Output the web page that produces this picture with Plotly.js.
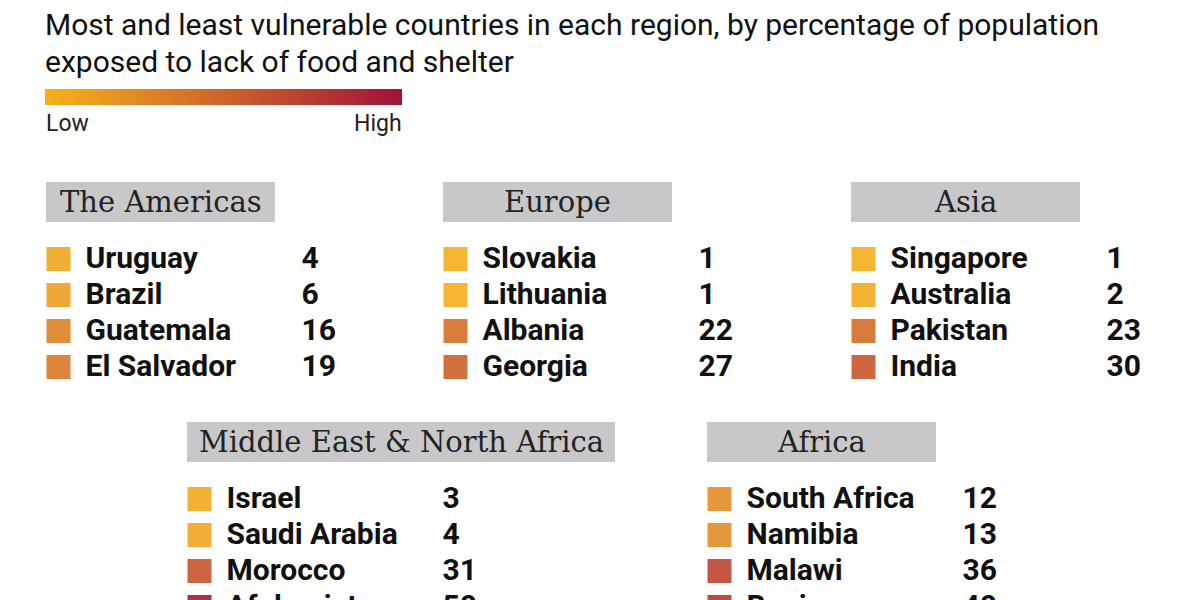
<!DOCTYPE html>
<html>
<head>
<meta charset="utf-8">
<script src="https://cdn.plot.ly/plotly-3.0.1.min.js"></script>
<style>html,body{margin:0;padding:0;background:#fff;overflow:hidden;}#chart{width:1200px;height:640px;}</style>
</head>
<body>
<div id="chart"></div>
<script>
// ---- data ----
const titleLines = ['Most and least vulnerable countries in each region, by percentage of population', 'exposed to lack of food and shelter'];
const scaleLabels = ['Low', 'High'];
const regions = ['The Americas', 'Europe', 'Asia', 'Middle East & North Africa', 'Africa'];
const americasCountries = ['Uruguay', 'Brazil', 'Guatemala', 'El Salvador'];
const americasValues = [4, 6, 16, 19];
const europeCountries = ['Slovakia', 'Lithuania', 'Albania', 'Georgia'];
const europeValues = [1, 1, 22, 27];
const asiaCountries = ['Singapore', 'Australia', 'Pakistan', 'India'];
const asiaValues = [1, 2, 23, 30];
const menaCountries = ['Israel', 'Saudi Arabia', 'Morocco', 'Afghanistan'];
const menaValues = [3, 4, 31, 50];
const africaCountries = ['South Africa', 'Namibia', 'Malawi', 'Benin'];
const africaValues = [12, 13, 36, 40];

// ---- layout constants (pixel positions of panels) ----
// The figure is drawn 640px tall inside the 600px window, so the last row is cut off as in the original.
const FIG_H = 640;
const panels = [
  {left: 46, top: 182, w: 229, names: americasCountries, vals: americasValues},
  {left: 443, top: 182, w: 229, names: europeCountries, vals: europeValues},
  {left: 851, top: 182, w: 229, names: asiaCountries, vals: asiaValues},
  {left: 187, top: 422, w: 428, names: menaCountries, vals: menaValues},
  {left: 707, top: 422, w: 229, names: africaCountries, vals: africaValues}
];
const headerH = 40, firstRow = 77, rowStep = 36;
const colorscale = [[0, '#F6B11C'], [0.5, '#CE6429'], [1, '#A0123A']];
const cmin = 0, cmax = 52;

const sqX = [], sqY = [], sqC = [];
const nmX = [], nmY = [], nmT = [];
const vX = [], vY = [], vT = [];
const shapes = [], annotations = [];

panels.forEach((p, i) => {
  shapes.push({type: 'rect', xref: 'x', yref: 'y', x0: p.left, x1: p.left + p.w, y0: p.top, y1: p.top + headerH,
    fillcolor: '#C8C8CA', line: {width: 0}, layer: 'below'});
  annotations.push({xref: 'x', yref: 'y', x: p.left + p.w / 2, y: p.top + headerH / 2, text: regions[i],
    showarrow: false, xanchor: 'center', yanchor: 'middle',
    font: {family: 'DejaVu Serif', size: 29, color: '#222'}});
  p.names.forEach((n, j) => {
    const yc = p.top + firstRow + j * rowStep;
    sqX.push(p.left + 12.5); sqY.push(yc); sqC.push(p.vals[j]);
    nmX.push(p.left + 39.5); nmY.push(yc + 1); nmT.push(n);
    vX.push(p.left + 255.5); vY.push(yc + 1); vT.push(String(p.vals[j]));
  });
});

annotations.push({xref: 'x', yref: 'y', x: 43, y: 24, text: titleLines[0], showarrow: false, xanchor: 'left', yanchor: 'middle',
  font: {family: 'Roboto', size: 30, color: '#111'}});
annotations.push({xref: 'x', yref: 'y', x: 43, y: 61, text: titleLines[1], showarrow: false, xanchor: 'left', yanchor: 'middle',
  font: {family: 'Roboto', size: 30, color: '#111'}});
annotations.push({xref: 'x', yref: 'y', x: 44, y: 123, text: scaleLabels[0], showarrow: false, xanchor: 'left', yanchor: 'middle',
  font: {family: 'Roboto', size: 23, color: '#222'}});
annotations.push({xref: 'x', yref: 'y', x: 404, y: 123, text: scaleLabels[1], showarrow: false, xanchor: 'right', yanchor: 'middle',
  font: {family: 'Roboto', size: 23, color: '#222'}});

const traces = [
  {type: 'scatter', mode: 'markers', x: sqX, y: sqY, hoverinfo: 'skip', cliponaxis: false,
    marker: {symbol: 'square', size: 24, color: sqC, colorscale: colorscale, cmin: cmin, cmax: cmax, opacity: 0.9,
      line: {width: 0},
      showscale: true,
      colorbar: {orientation: 'h', x: 45 / 1200, xanchor: 'left', y: 1 - 97 / FIG_H, yanchor: 'middle',
        len: 357, lenmode: 'pixels', thickness: 16, thicknessmode: 'pixels', outlinewidth: 0,
        showticklabels: false, ticks: '', xpad: 0, ypad: 0, borderwidth: 0}}},
  {type: 'scatter', mode: 'text', x: nmX, y: nmY, text: nmT, textposition: 'middle right', hoverinfo: 'skip', cliponaxis: false,
    textfont: {family: 'Roboto', size: 30, weight: 'bold', color: '#111'}},
  {type: 'scatter', mode: 'text', x: vX, y: vY, text: vT, textposition: 'middle right', hoverinfo: 'skip', cliponaxis: false,
    textfont: {family: 'Roboto', size: 30, weight: 'bold', color: '#111'}}
];

const layout = {
  width: 1200, height: FIG_H,
  margin: {l: 0, r: 0, t: 0, b: 0, pad: 0},
  paper_bgcolor: '#fff', plot_bgcolor: '#fff',
  showlegend: false,
  xaxis: {range: [0, 1200], visible: false, fixedrange: true},
  yaxis: {range: [FIG_H, 0], visible: false, fixedrange: true},
  shapes: shapes,
  annotations: annotations
};

Plotly.newPlot('chart', traces, layout, {staticPlot: true, displayModeBar: false});
</script>
</body>
</html>
